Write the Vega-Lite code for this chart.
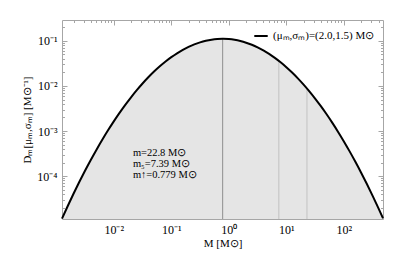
{
  "$schema": "https://vega.github.io/schema/vega-lite/v6.json",
  "width": 321,
  "height": 199,
  "autosize": "none",
  "padding": {"left": 62, "top": 20, "right": 32, "bottom": 42},
  "config": {
    "view": {"stroke": "#a6a6a6", "strokeWidth": 1},
    "font": "Liberation Serif",
    "axis": {
      "domain": false,
      "grid": false,
      "labelFont": "Liberation Serif",
      "labelFontSize": 12,
      "labelColor": "#000000",
      "titleFont": "Liberation Serif",
      "titleFontWeight": "normal",
      "titleFontSize": 11,
      "titleColor": "#000000",
      "tickColor": "#a6a6a6",
      "labelOverlap": false,
      "labelFlush": false
    }
  },
  "datasets": {
    "curve": [
      {"M": 0.0012589, "D": 0.00001142},
      {"M": 0.0015849, "D": 0.00002179},
      {"M": 0.0019953, "D": 0.0000406},
      {"M": 0.0025119, "D": 0.00007389},
      {"M": 0.0031623, "D": 0.00013138},
      {"M": 0.0039811, "D": 0.0002281},
      {"M": 0.0050119, "D": 0.0003868},
      {"M": 0.0063096, "D": 0.0006406},
      {"M": 0.0079433, "D": 0.0010364},
      {"M": 0.01, "D": 0.0016379},
      {"M": 0.012589, "D": 0.002527},
      {"M": 0.015849, "D": 0.003809},
      {"M": 0.019953, "D": 0.005609},
      {"M": 0.025119, "D": 0.008065},
      {"M": 0.031623, "D": 0.011327},
      {"M": 0.039811, "D": 0.015538},
      {"M": 0.050119, "D": 0.020822},
      {"M": 0.063096, "D": 0.027243},
      {"M": 0.079433, "D": 0.034829},
      {"M": 0.1, "D": 0.043456},
      {"M": 0.12589, "D": 0.053},
      {"M": 0.15849, "D": 0.06312},
      {"M": 0.19953, "D": 0.07341},
      {"M": 0.25119, "D": 0.08342},
      {"M": 0.31623, "D": 0.09255},
      {"M": 0.39811, "D": 0.10031},
      {"M": 0.50119, "D": 0.1062},
      {"M": 0.63096, "D": 0.10979},
      {"M": 0.779, "D": 0.1109},
      {"M": 0.79433, "D": 0.11087},
      {"M": 1, "D": 0.10934},
      {"M": 1.2589, "D": 0.10534},
      {"M": 1.5849, "D": 0.0991},
      {"M": 1.9953, "D": 0.09107},
      {"M": 2.5119, "D": 0.08175},
      {"M": 3.1623, "D": 0.07165},
      {"M": 3.9811, "D": 0.06136},
      {"M": 5.0119, "D": 0.05132},
      {"M": 6.3096, "D": 0.04191},
      {"M": 7.9433, "D": 0.03344},
      {"M": 10, "D": 0.026055},
      {"M": 12.589, "D": 0.019833},
      {"M": 15.849, "D": 0.014743},
      {"M": 19.953, "D": 0.010705},
      {"M": 25.119, "D": 0.00759},
      {"M": 31.623, "D": 0.005258},
      {"M": 39.811, "D": 0.003557},
      {"M": 50.119, "D": 0.00235},
      {"M": 63.096, "D": 0.0015167},
      {"M": 79.433, "D": 0.000956},
      {"M": 100, "D": 0.0005886},
      {"M": 125.89, "D": 0.0003539},
      {"M": 158.49, "D": 0.00020785},
      {"M": 199.53, "D": 0.00011923},
      {"M": 251.19, "D": 0.0000668},
      {"M": 316.23, "D": 0.00003655},
      {"M": 398.11, "D": 0.000019537},
      {"M": 478.63, "D": 0.00001164}
    ],
    "stats": [
      {"M": 0.779, "D": 0.1109, "stat": "mode"},
      {"M": 7.39, "D": 0.03599, "stat": "median"},
      {"M": 22.8, "D": 0.008796, "stat": "mean"}
    ],
    "notes": [
      {"M": 0.0215, "D": 0.000321, "label": "m=22.8 M⊙"},
      {"M": 0.0215, "D": 0.000183, "label": "m₅=7.39 M⊙"},
      {"M": 0.0215, "D": 0.000104, "label": "m↑=0.779 M⊙"}
    ]
  },
  "layer": [
    {
      "data": {"name": "curve"},
      "mark": {"type": "area", "color": "#e5e5e5", "interpolate": "monotone"},
      "encoding": {
        "x": {
          "field": "M",
          "type": "quantitative",
          "scale": {"type": "log", "domain": [0.0012589, 478.63], "nice": false},
          "axis": {
            "orient": "bottom",
            "title": "M [M⊙]",
            "titlePadding": 2,
            "values": [0.01, 0.1, 1, 10, 100],
            "labelExpr": "datum.value == 0.01 ? '10⁻²' : datum.value == 0.1 ? '10⁻¹' : datum.value == 1 ? '10⁰' : datum.value == 10 ? '10¹' : '10²'",
            "tickSize": -5,
            "labelPadding": 10
          }
        },
        "y": {
          "field": "D",
          "type": "quantitative",
          "scale": {"type": "log", "domain": [0.0000112, 0.29], "nice": false},
          "axis": {
            "orient": "left",
            "title": "Dₘ[μₘ,σₘ] [M⊙⁻¹]",
            "titlePadding": 4,
            "values": [0.0001, 0.001, 0.01, 0.1],
            "labelExpr": "datum.value == 0.1 ? '10⁻¹' : datum.value == 0.01 ? '10⁻²' : datum.value == 0.001 ? '10⁻³' : '10⁻⁴'",
            "tickSize": -5,
            "labelPadding": 10
          }
        },
        "y2": {"datum": 0.0000112}
      }
    },
    {
      "data": {"name": "stats"},
      "mark": {"type": "rule", "strokeWidth": 1.2},
      "encoding": {
        "x": {
          "field": "M",
          "type": "quantitative",
          "axis": {
            "orient": "bottom",
            "title": null,
            "labels": false,
            "values": [0.002,0.003,0.004,0.005,0.006,0.007,0.008,0.009,0.02,0.03,0.04,0.05,0.06,0.07,0.08,0.09,0.2,0.3,0.4,0.5,0.6,0.7,0.8,0.9,2,3,4,5,6,7,8,9,20,30,40,50,60,70,80,90,200,300,400],
            "tickSize": -2.5
          }
        },
        "y": {
          "field": "D",
          "type": "quantitative",
          "axis": {
            "orient": "left",
            "title": null,
            "labels": false,
            "values": [0.00002,0.00003,0.00004,0.00005,0.00006,0.00007,0.00008,0.00009,0.0002,0.0003,0.0004,0.0005,0.0006,0.0007,0.0008,0.0009,0.002,0.003,0.004,0.005,0.006,0.007,0.008,0.009,0.02,0.03,0.04,0.05,0.06,0.07,0.08,0.09,0.2],
            "tickSize": -2.5
          }
        },
        "y2": {"datum": 0.0000112},
        "color": {
          "field": "stat",
          "type": "nominal",
          "scale": {"domain": ["mode", "median", "mean"], "range": ["#9c9c9c", "#c8c8c8", "#c8c8c8"]},
          "legend": null
        }
      }
    },
    {
      "data": {"name": "curve"},
      "mark": {"type": "line", "strokeWidth": 2, "interpolate": "monotone"},
      "encoding": {
        "x": {
          "field": "M",
          "type": "quantitative",
          "axis": {
            "orient": "top",
            "title": null,
            "labels": false,
            "values": [0.01, 0.1, 1, 10, 100],
            "tickSize": -5
          }
        },
        "y": {
          "field": "D",
          "type": "quantitative",
          "axis": {
            "orient": "right",
            "title": null,
            "labels": false,
            "values": [0.0001, 0.001, 0.01, 0.1],
            "tickSize": -5
          }
        },
        "color": {
          "datum": "(μₘ,σₘ)=(2.0,1.5) M⊙",
          "type": "nominal",
          "scale": {"range": ["#000000"]},
          "legend": {
            "orient": "top-right",
            "offset": 8,
            "title": null,
            "symbolType": "stroke",
            "symbolStrokeWidth": 2,
            "symbolSize": 180,
            "labelFont": "Liberation Serif",
            "labelFontSize": 11,
            "labelLimit": 300,
            "padding": 0
          }
        }
      }
    },
    {
      "data": {"name": "notes"},
      "mark": {"type": "text", "align": "left", "baseline": "middle", "fontSize": 10.5, "font": "Liberation Serif", "color": "#000000"},
      "encoding": {
        "x": {
          "field": "M",
          "type": "quantitative",
          "axis": {
            "orient": "top",
            "title": null,
            "labels": false,
            "values": [0.002,0.003,0.004,0.005,0.006,0.007,0.008,0.009,0.02,0.03,0.04,0.05,0.06,0.07,0.08,0.09,0.2,0.3,0.4,0.5,0.6,0.7,0.8,0.9,2,3,4,5,6,7,8,9,20,30,40,50,60,70,80,90,200,300,400],
            "tickSize": -2.5
          }
        },
        "y": {
          "field": "D",
          "type": "quantitative",
          "axis": {
            "orient": "right",
            "title": null,
            "labels": false,
            "values": [0.00002,0.00003,0.00004,0.00005,0.00006,0.00007,0.00008,0.00009,0.0002,0.0003,0.0004,0.0005,0.0006,0.0007,0.0008,0.0009,0.002,0.003,0.004,0.005,0.006,0.007,0.008,0.009,0.02,0.03,0.04,0.05,0.06,0.07,0.08,0.09,0.2],
            "tickSize": -2.5
          }
        },
        "text": {"field": "label"}
      }
    }
  ],
  "resolve": {
    "axis": {"x": "independent", "y": "independent"},
    "scale": {"color": "independent"}
  }
}
